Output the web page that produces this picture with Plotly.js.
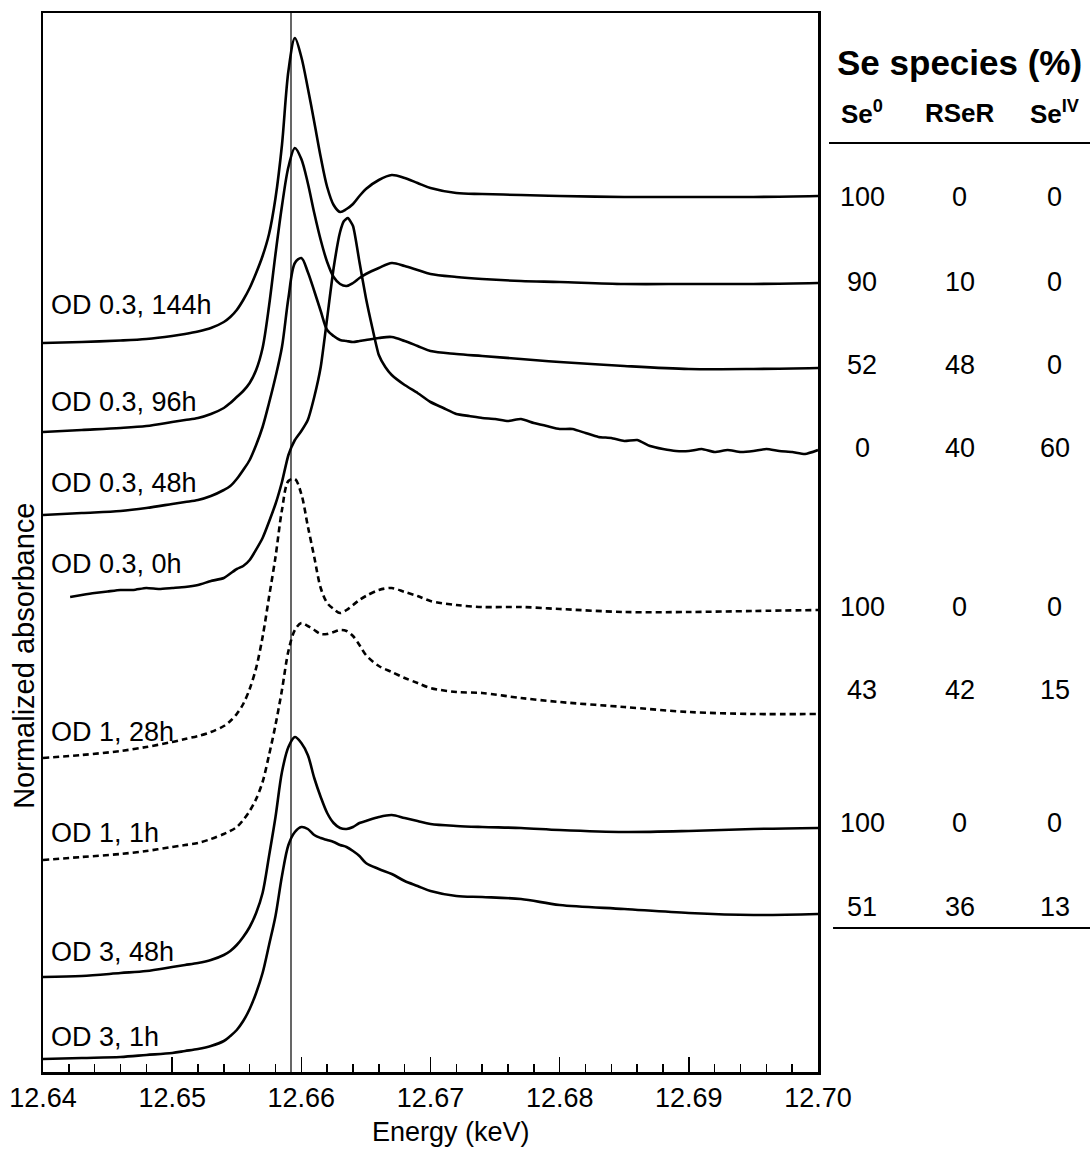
<!DOCTYPE html>
<html><head><meta charset="utf-8">
<script src="https://cdn.plot.ly/plotly-3.0.1.min.js"></script>
<style>html,body{margin:0;padding:0;background:#fff}#chart{width:1090px;height:1149px}</style>
</head><body><div id="chart"></div>
<script>
// ---------- DATA ----------
const curveNames = ["OD 0.3, 144h","OD 0.3, 96h","OD 0.3, 48h","OD 0.3, 0h","OD 1, 28h","OD 1, 1h","OD 3, 48h","OD 3, 1h"];

// shared energy grid (keV) for the smooth spectra
const energy = [12.640,12.643,12.646,12.648,12.650,12.651,12.652,12.653,12.654,12.6545,
  12.655,12.6555,12.656,12.6565,12.657,12.6575,12.658,12.6585,12.659,12.6595,
  12.660,12.6605,12.661,12.6615,12.662,12.6625,12.663,12.6635,12.664,12.6645,
  12.665,12.666,12.667,12.668,12.669,12.670,12.672,12.674,12.677,12.680,
  12.685,12.690,12.695,12.700];

// normalized absorbance (stacked with vertical offsets as in the figure)
const od03_144h = [7.29,7.30,7.315,7.33,7.36,7.38,7.405,7.44,7.50,7.55,
  7.62,7.72,7.84,7.99,8.16,8.38,8.74,9.27,10.01,10.34,
  10.15,9.84,9.50,9.15,8.85,8.67,8.60,8.63,8.68,8.76,
  8.83,8.92,8.97,8.94,8.89,8.84,8.79,8.78,8.77,8.76,
  8.75,8.75,8.75,8.76];
const od03_96h = [6.40,6.42,6.44,6.46,6.50,6.52,6.54,6.58,6.64,6.69,
  6.75,6.81,6.89,7.02,7.24,7.66,8.18,8.66,9.05,9.24,
  9.13,8.89,8.59,8.32,8.10,7.95,7.88,7.86,7.89,7.94,
  7.98,8.04,8.09,8.06,8.02,7.98,7.95,7.93,7.91,7.90,
  7.88,7.88,7.88,7.89];
const od03_48h = [5.57,5.59,5.61,5.64,5.68,5.70,5.72,5.76,5.82,5.86,
  5.93,6.02,6.12,6.27,6.45,6.69,6.95,7.25,7.74,8.09,
  8.14,8.00,7.81,7.61,7.42,7.36,7.32,7.31,7.30,7.31,
  7.32,7.34,7.35,7.31,7.26,7.21,7.18,7.16,7.13,7.10,
  7.06,7.03,7.03,7.04];
const od1_28h = [3.14,3.17,3.21,3.25,3.30,3.33,3.36,3.40,3.46,3.51,
  3.58,3.68,3.83,4.04,4.35,4.75,5.15,5.62,5.91,5.93,
  5.78,5.46,5.15,4.84,4.69,4.63,4.59,4.62,4.67,4.72,
  4.76,4.82,4.84,4.80,4.76,4.71,4.67,4.65,4.65,4.63,
  4.60,4.60,4.61,4.62];
const od1_1h = [2.12,2.15,2.18,2.21,2.25,2.27,2.29,2.33,2.38,2.41,
  2.45,2.52,2.61,2.73,2.90,3.17,3.47,3.82,4.21,4.42,
  4.49,4.46,4.42,4.38,4.38,4.40,4.42,4.41,4.36,4.27,
  4.17,4.06,4.00,3.94,3.89,3.84,3.80,3.79,3.74,3.70,
  3.65,3.60,3.58,3.58];
const od3_48h = [0.95,0.96,0.99,1.01,1.05,1.07,1.09,1.12,1.17,1.21,
  1.27,1.35,1.45,1.59,1.79,2.16,2.55,3.00,3.25,3.35,
  3.29,3.17,2.94,2.75,2.59,2.49,2.44,2.43,2.45,2.49,
  2.51,2.55,2.57,2.54,2.51,2.48,2.46,2.45,2.44,2.42,
  2.40,2.41,2.43,2.44];
const od3_1h = [0.13,0.14,0.15,0.17,0.19,0.21,0.23,0.26,0.31,0.36,
  0.42,0.51,0.63,0.79,0.99,1.27,1.56,1.96,2.27,2.40,
  2.45,2.43,2.37,2.34,2.32,2.30,2.27,2.25,2.21,2.16,
  2.09,2.03,1.98,1.91,1.86,1.81,1.76,1.75,1.73,1.67,
  1.63,1.59,1.57,1.58];

// the noisy OD 0.3, 0h spectrum has its own energy grid
const energy0h = [12.6421,12.643,12.644,12.645,12.646,12.647,12.648,12.649,12.650,12.651,
  12.652,12.653,12.654,12.655,12.6555,12.656,12.657,12.658,12.6585,12.659,
  12.6595,12.660,12.6605,12.661,12.6615,12.662,12.6625,12.663,12.6633,12.6636,
  12.664,12.6645,12.665,12.6655,12.666,12.6665,12.667,
  12.668,12.669,12.670,12.671,12.672,12.673,12.674,12.675,12.676,12.677,12.678,12.679,12.680,12.681,12.682,12.683,12.684,12.685,12.686,12.687,12.688,12.689,12.690,12.691,12.692,12.693,12.694,12.695,12.696,12.697,12.698,12.699,12.700];
const od03_0h = [4.75,4.77,4.79,4.805,4.82,4.82,4.84,4.83,4.84,4.85,
  4.87,4.91,4.94,5.03,5.06,5.12,5.34,5.68,5.90,6.17,
  6.32,6.41,6.52,6.75,7.05,7.54,8.04,8.40,8.51,8.54,
  8.46,8.10,7.74,7.44,7.17,7.05,6.97,
  6.87,6.79,6.70,6.64,6.58,6.56,6.54,6.53,6.51,6.53,6.49,6.46,6.43,6.43,6.39,6.35,6.34,6.31,6.32,6.26,6.23,6.21,6.21,6.23,6.20,6.22,6.20,6.21,6.23,6.21,6.20,6.18,6.22];

// Se species table (%)
const speciesHeader = ["Se<sup>0</sup>", "RSeR", "Se<sup>IV</sup>"];
const se0  = [100, 90, 52, 0, 100, 43, 100, 51];
const rser = [0, 10, 48, 40, 0, 42, 0, 36];
const seiv = [0, 0, 0, 60, 0, 15, 0, 13];

const edgeEnergy = 12.6592; // reference line (keV)

// ---------- STYLE / LAYOUT ----------
const FONT = "Liberation Sans, Arial, Helvetica, sans-serif";
const DOT = "6px,4px";
const curves = [
  {x: energy, y: od03_144h, dash: "solid", sm: 0.9},
  {x: energy, y: od03_96h, dash: "solid", sm: 0.9},
  {x: energy, y: od03_48h, dash: "solid", sm: 0.9},
  {x: energy0h, y: od03_0h, dash: "solid", sm: 0.5},
  {x: energy, y: od1_28h, dash: DOT, sm: 0.9},
  {x: energy, y: od1_1h, dash: DOT, sm: 0.9},
  {x: energy, y: od3_48h, dash: "solid", sm: 0.9},
  {x: energy, y: od3_1h, dash: "solid", sm: 0.9}
];
const traces = curves.map((c, i) => ({
  x: c.x, y: c.y, name: curveNames[i], type: "scatter", mode: "lines",
  line: {color: "#000", width: 2.6, dash: c.dash, shape: "spline", smoothing: c.sm},
  hoverinfo: "skip", showlegend: false
}));

const labelY = [7.67, 6.70, 5.89, 5.08, 3.40, 2.39, 1.20, 0.35];
const tableRowY = [8.75, 7.90, 7.07, 6.24, 4.65, 3.82, 2.49, 1.65];
const colX = [1.0568, 1.1832, 1.3058];

const annotations = [];
curveNames.forEach((n, i) => annotations.push({
  text: n, xref: "paper", yref: "y", x: 0.0078, y: labelY[i], xanchor: "left", yanchor: "middle",
  showarrow: false, font: {family: FONT, size: 27, color: "#000"}
}));
annotations.push({text: "<b>Se species (%)</b>", xref: "paper", yref: "paper", x: 1.1832, y: 0.9537,
  xanchor: "center", yanchor: "middle", showarrow: false, font: {family: FONT, size: 35, color: "#000"}});
speciesHeader.forEach((h, j) => annotations.push({text: "<b>" + h + "</b>", xref: "paper", yref: "paper",
  x: colX[j], y: 0.9056, xanchor: "center", yanchor: "middle", showarrow: false,
  font: {family: FONT, size: 26, color: "#000"}}));
[se0, rser, seiv].forEach((col, j) => col.forEach((v, i) => annotations.push({
  text: String(v), xref: "paper", yref: "y", x: colX[j], y: tableRowY[i], xanchor: "center", yanchor: "middle",
  showarrow: false, font: {family: FONT, size: 27, color: "#000"}
})));
annotations.push({text: "Normalized absorbance", xref: "paper", yref: "paper", x: -0.0245, y: 0.393,
  textangle: -90, xanchor: "center", yanchor: "middle", showarrow: false, font: {family: FONT, size: 29, color: "#000"}});
annotations.push({text: "Energy (keV)", xref: "paper", yref: "paper", x: 0.526, y: -0.0567,
  xanchor: "center", yanchor: "middle", showarrow: false, font: {family: FONT, size: 27, color: "#000"}});

const shapes = [
  {type: "line", xref: "x", yref: "paper", x0: edgeEnergy, x1: edgeEnergy, y0: 0, y1: 1, line: {color: "#000", width: 1.2}},
  {type: "line", xref: "paper", yref: "paper", x0: 1.0142, x1: 1.351, y0: 0.8772, y1: 0.8772, line: {color: "#000", width: 2}},
  {type: "line", xref: "paper", yref: "paper", x0: 1.0194, x1: 1.351, y0: 0.1360, y1: 0.1360, line: {color: "#000", width: 2}}
];

const layout = {
  width: 1090, height: 1149,
  margin: {l: 43, r: 272, t: 13, b: 77, pad: 0},
  paper_bgcolor: "#fff", plot_bgcolor: "#fff",
  font: {family: FONT, color: "#000"},
  showlegend: false,
  xaxis: {
    range: [12.6399999, 12.7000001], tickmode: "linear", tick0: 12.64, dtick: 0.01, tickformat: ".2f",
    ticks: "inside", ticklen: 15, tickwidth: 1.6, tickcolor: "#000",
    minor: {tickmode: "linear", tick0: 12.64, dtick: 0.002, ticks: "inside", ticklen: 8, tickwidth: 1.6, tickcolor: "#000", showgrid: false},
    showline: true, linewidth: 2.5, linecolor: "#000", mirror: true,
    showgrid: false, zeroline: false, tickfont: {family: FONT, size: 27, color: "#000"}
  },
  yaxis: {
    range: [0, 10.59], showline: true, linewidth: 2.5, linecolor: "#000", mirror: true,
    ticks: "", showticklabels: false, showgrid: false, zeroline: false
  },
  annotations: annotations,
  shapes: shapes
};

Plotly.newPlot("chart", traces, layout, {staticPlot: true, displayModeBar: false});
</script></body></html>
